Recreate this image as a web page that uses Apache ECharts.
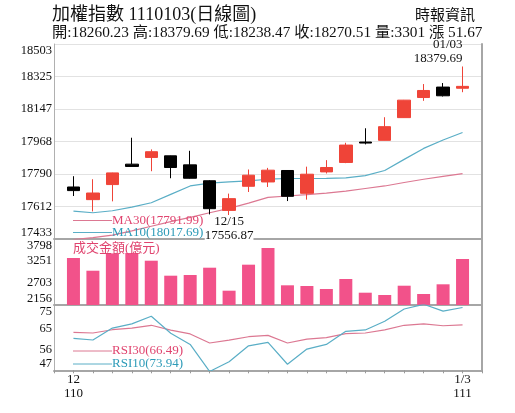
<!DOCTYPE html>
<html><head><meta charset="utf-8">
<script src="https://cdn.jsdelivr.net/npm/echarts@6/dist/echarts.min.js"></script>
<style>html,body{margin:0;padding:0;background:#fff}#c{width:515px;height:413px}</style>
</head><body><div id="c"></div>
<script>
// ---- data ----
const titleText = '加權指數 1110103(日線圖)';
const sourceText = '時報資訊';
const volumeTitle = '成交金額(億元)';
const dates = ['12/03','12/06','12/07','12/08','12/09','12/10','12/13','12/14','12/15','12/16','12/17',
               '12/20','12/21','12/22','12/23','12/24','12/27','12/28','12/29','12/30','01/03'];
const xTickText = {'12/03': '12\n110', '01/03': '1/3\n111'};
const opens  = [17718.4,17649.0,17731.7,17843.7,17880.6,17889.4,17839.8,17752.6,17590.0,17722.3,17746.0,
                17808.9,17683.7,17801.2,17853.0,17965.0,17974.4,18099.0,18209.3,18266.7,18260.23];
const closes = [17698.6,17685.4,17795.7,17831.0,17912.0,17825.4,17766.4,17599.3,17654.5,17783.0,17810.6,
                17667.2,17788.5,17825.4,17948.4,17959.5,18049.4,18195.0,18248.0,18218.84,18270.51];
const lows   = [17668.8,17584.4,17639.6,17829.9,17805.0,17766.4,17764.8,17568.0,17556.87,17690.9,17718.4,
                17641.2,17649.0,17792.4,17849.2,17952.3,17974.0,18098.0,18191.1,18215.0,18238.47];
const highs  = [17777.5,17760.9,17797.0,17988.7,17924.7,17890.5,17917.0,17755.4,17682.0,17814.4,17823.2,
                17810.0,17829.9,17865.7,17961.1,18040.6,18101.2,18196.0,18283.2,18288.8,18379.69];
const ma10   = [17586,17577,17588,17608,17632,17678,17724,17740,17746,17752,17761,
                17765,17765,17766,17768,17781,17809,17870,17930,17976,18017.69];
const ma30   = [17430,17441,17454,17478,17503,17528,17552,17577,17601,17630,17661,
                17669,17676,17685,17696,17710,17724,17743,17761,17777,17791.99];
const volumes = [3325,3009,3440,3450,3258,2885,2902,3084,2512,3159,3574,
                 2646,2629,2554,2803,2462,2405,2636,2430,2671,3301];
const rsi10  = [60.7,60.0,65.1,66.9,70.2,62.9,58.1,46.5,50.7,57.5,59.0,
                49.6,56.1,58.1,63.7,64.3,68.0,73.3,75.3,72.4,73.94];
const rsi30  = [63.3,63.0,64.4,65.1,66.3,64.2,62.6,58.7,59.9,61.4,62.0,
                58.7,60.4,61.0,62.7,63.0,64.3,66.3,66.9,66.1,66.49];
const priceTicks  = [17433,17612,17790,17968,18147,18325,18503];
const volumeTicks = [2156,2703,3251,3798];
const rsiTicks    = [47,56,65,75];

// ---- build ----
const FONT = '"Liberation Serif", "Noto Sans CJK TC", serif';
const RED = '#ef4438', PINK = '#e0446f', PINKLINE = '#dc7892', TEAL = '#2d9bb8', TEALLINE = '#5aaec6', BAR = '#f2528a';
const cats = ['pad0'].concat(dates, ['pad1']);
const pad = a => ['-'].concat(a);
const candleData = [['-','-','-','-']].concat(dates.map((d, i) => [opens[i], closes[i], lows[i], highs[i]]));
const n = dates.length;
const iMax = highs.indexOf(Math.max(...highs));
const iMin = lows.indexOf(Math.min(...lows));
const last = n - 1;
const chg = closes[last] - closes[last - 1];
const headerText = '開:' + opens[last].toFixed(2) + ' 高:' + highs[last].toFixed(2) + ' 低:' + lows[last].toFixed(2) +
  ' 收:' + closes[last].toFixed(2) + ' 量:' + volumes[last] + (chg >= 0 ? ' 漲 ' : ' 跌 ') + Math.abs(chg).toFixed(2);

const grids = [
  {left: 54, right: 33, top: 44, height: 195},
  {left: 54, right: 33, top: 239, height: 66},
  {left: 54, right: 33, top: 305, height: 65.3}
];
function xAx(g, showLabels) {
  return {
    type: 'category', gridIndex: g, data: cats, boundaryGap: false,
    axisLine: {show: true, lineStyle: {color: '#a6a6a6', width: 2}},
    axisTick: {show: showLabels, interval: 0, length: 3, lineStyle: {color: '#999'}},
    axisLabel: {show: showLabels, interval: 0, margin: 3, fontSize: 13, lineHeight: 13.4, color: '#111', fontFamily: FONT,
      formatter: v => xTickText[v] || ''},
    splitLine: {show: false}
  };
}
function yAx(g, ticks, split) {
  return {
    type: 'value', gridIndex: g, min: ticks[0], max: ticks[ticks.length - 1], position: 'left',
    axisLine: {show: true, lineStyle: {color: '#b0b0b0', width: 1}},
    axisTick: {show: false, customValues: ticks},
    axisLabel: {customValues: ticks, margin: 2, fontSize: 12.5, color: '#111', fontFamily: FONT,
      formatter: v => String(Math.round(v)),
      verticalAlignMinLabel: 'bottom', verticalAlignMaxLabel: 'top'},
    splitLine: {show: split, lineStyle: {color: '#e2e2e2', width: 1}}
  };
}
function yRight(g) {
  return {type: 'value', gridIndex: g, position: 'right', min: 0, max: 1,
    axisLine: {show: true, lineStyle: {color: '#a6a6a6', width: 2}},
    axisTick: {show: false}, axisLabel: {show: false}, splitLine: {show: false}};
}

function legendItem(y, color, lineColor, text) {
  return [
    {type: 'line', shape: {x1: 73, y1: y, x2: 112, y2: y}, style: {stroke: lineColor, lineWidth: 1}, z: 50},
    {type: 'text', z: 50, style: {x: 112, y: y, text: text, fill: color, font: '13px ' + FONT, verticalAlign: 'middle', align: 'left'}}
  ];
}

const option = {
  animation: false,
  backgroundColor: '#fff',
  grid: grids,
  xAxis: [xAx(0, false), xAx(1, false), xAx(2, true)],
  yAxis: [yAx(0, priceTicks, true), yRight(0), yAx(1, volumeTicks, false), yRight(1), yAx(2, rsiTicks, false), yRight(2)],
  series: [
    {type: 'line', name: 'MA30', xAxisIndex: 0, yAxisIndex: 0, data: pad(ma30), symbol: 'none', z: 2,
     lineStyle: {color: PINKLINE, width: 1.2}},
    {type: 'line', name: 'MA10', xAxisIndex: 0, yAxisIndex: 0, data: pad(ma10), symbol: 'none', z: 2,
     lineStyle: {color: TEALLINE, width: 1.2}},
    {type: 'candlestick', xAxisIndex: 0, yAxisIndex: 0, data: candleData, barWidth: 13, z: 3,
     itemStyle: {color: RED, color0: '#000', borderColor: RED, borderColor0: '#000', borderWidth: 1},
     markPoint: {
       symbol: 'rect', symbolSize: 1, itemStyle: {color: 'rgba(0,0,0,0)'}, z: 20,
       data: [
         {coord: [iMax + 1, highs[iMax]],
          label: {show: true, position: 'top', distance: 1, align: 'right', color: '#111', fontFamily: FONT, fontSize: 13, lineHeight: 13.7,
                  formatter: dates[iMax] + '\n' + highs[iMax].toFixed(2)}},
         {coord: [iMin + 1, lows[iMin]],
          label: {show: true, position: 'bottom', distance: 0, offset: [0, -2], align: 'center', color: '#111', fontFamily: FONT, fontSize: 13, lineHeight: 13.7,
                  backgroundColor: '#fff', formatter: dates[iMin] + '\n' + lows[iMin].toFixed(2)}}
       ]
     }},
    {type: 'bar', xAxisIndex: 1, yAxisIndex: 2, data: pad(volumes), barWidth: 13, itemStyle: {color: BAR}},
    {type: 'line', name: 'RSI30', xAxisIndex: 2, yAxisIndex: 4, data: pad(rsi30), symbol: 'none',
     lineStyle: {color: PINKLINE, width: 1.2}},
    {type: 'line', name: 'RSI10', xAxisIndex: 2, yAxisIndex: 4, data: pad(rsi10), symbol: 'none',
     lineStyle: {color: TEALLINE, width: 1.2}}
  ],
  graphic: [
    {type: 'text', z: 50, style: {x: 52, y: 15, text: titleText, fill: '#111', font: '18px ' + FONT, verticalAlign: 'middle'}},
    {type: 'text', z: 50, style: {x: 52, y: 32.5, text: headerText, fill: '#111', font: '15.3px ' + FONT, verticalAlign: 'middle'}},
    {type: 'text', z: 50, style: {x: 415, y: 16, text: sourceText, fill: '#111', font: '15px ' + FONT, verticalAlign: 'middle'}},
    {type: 'text', z: 50, style: {x: 73, y: 248.5, text: volumeTitle, fill: PINK, font: '13px ' + FONT, verticalAlign: 'middle'}}
  ].concat(
    legendItem(220.5, PINK, PINKLINE, 'MA30(' + ma30[last].toFixed(2) + ')'),
    legendItem(232.5, TEAL, TEALLINE, 'MA10(' + ma10[last].toFixed(2) + ')'),
    legendItem(351, PINK, PINKLINE, 'RSI30(' + rsi30[last].toFixed(2) + ')'),
    legendItem(364, TEAL, TEALLINE, 'RSI10(' + rsi10[last].toFixed(2) + ')')
  )
};
const chart = echarts.init(document.getElementById('c'));
chart.setOption(option);
</script></body></html>
